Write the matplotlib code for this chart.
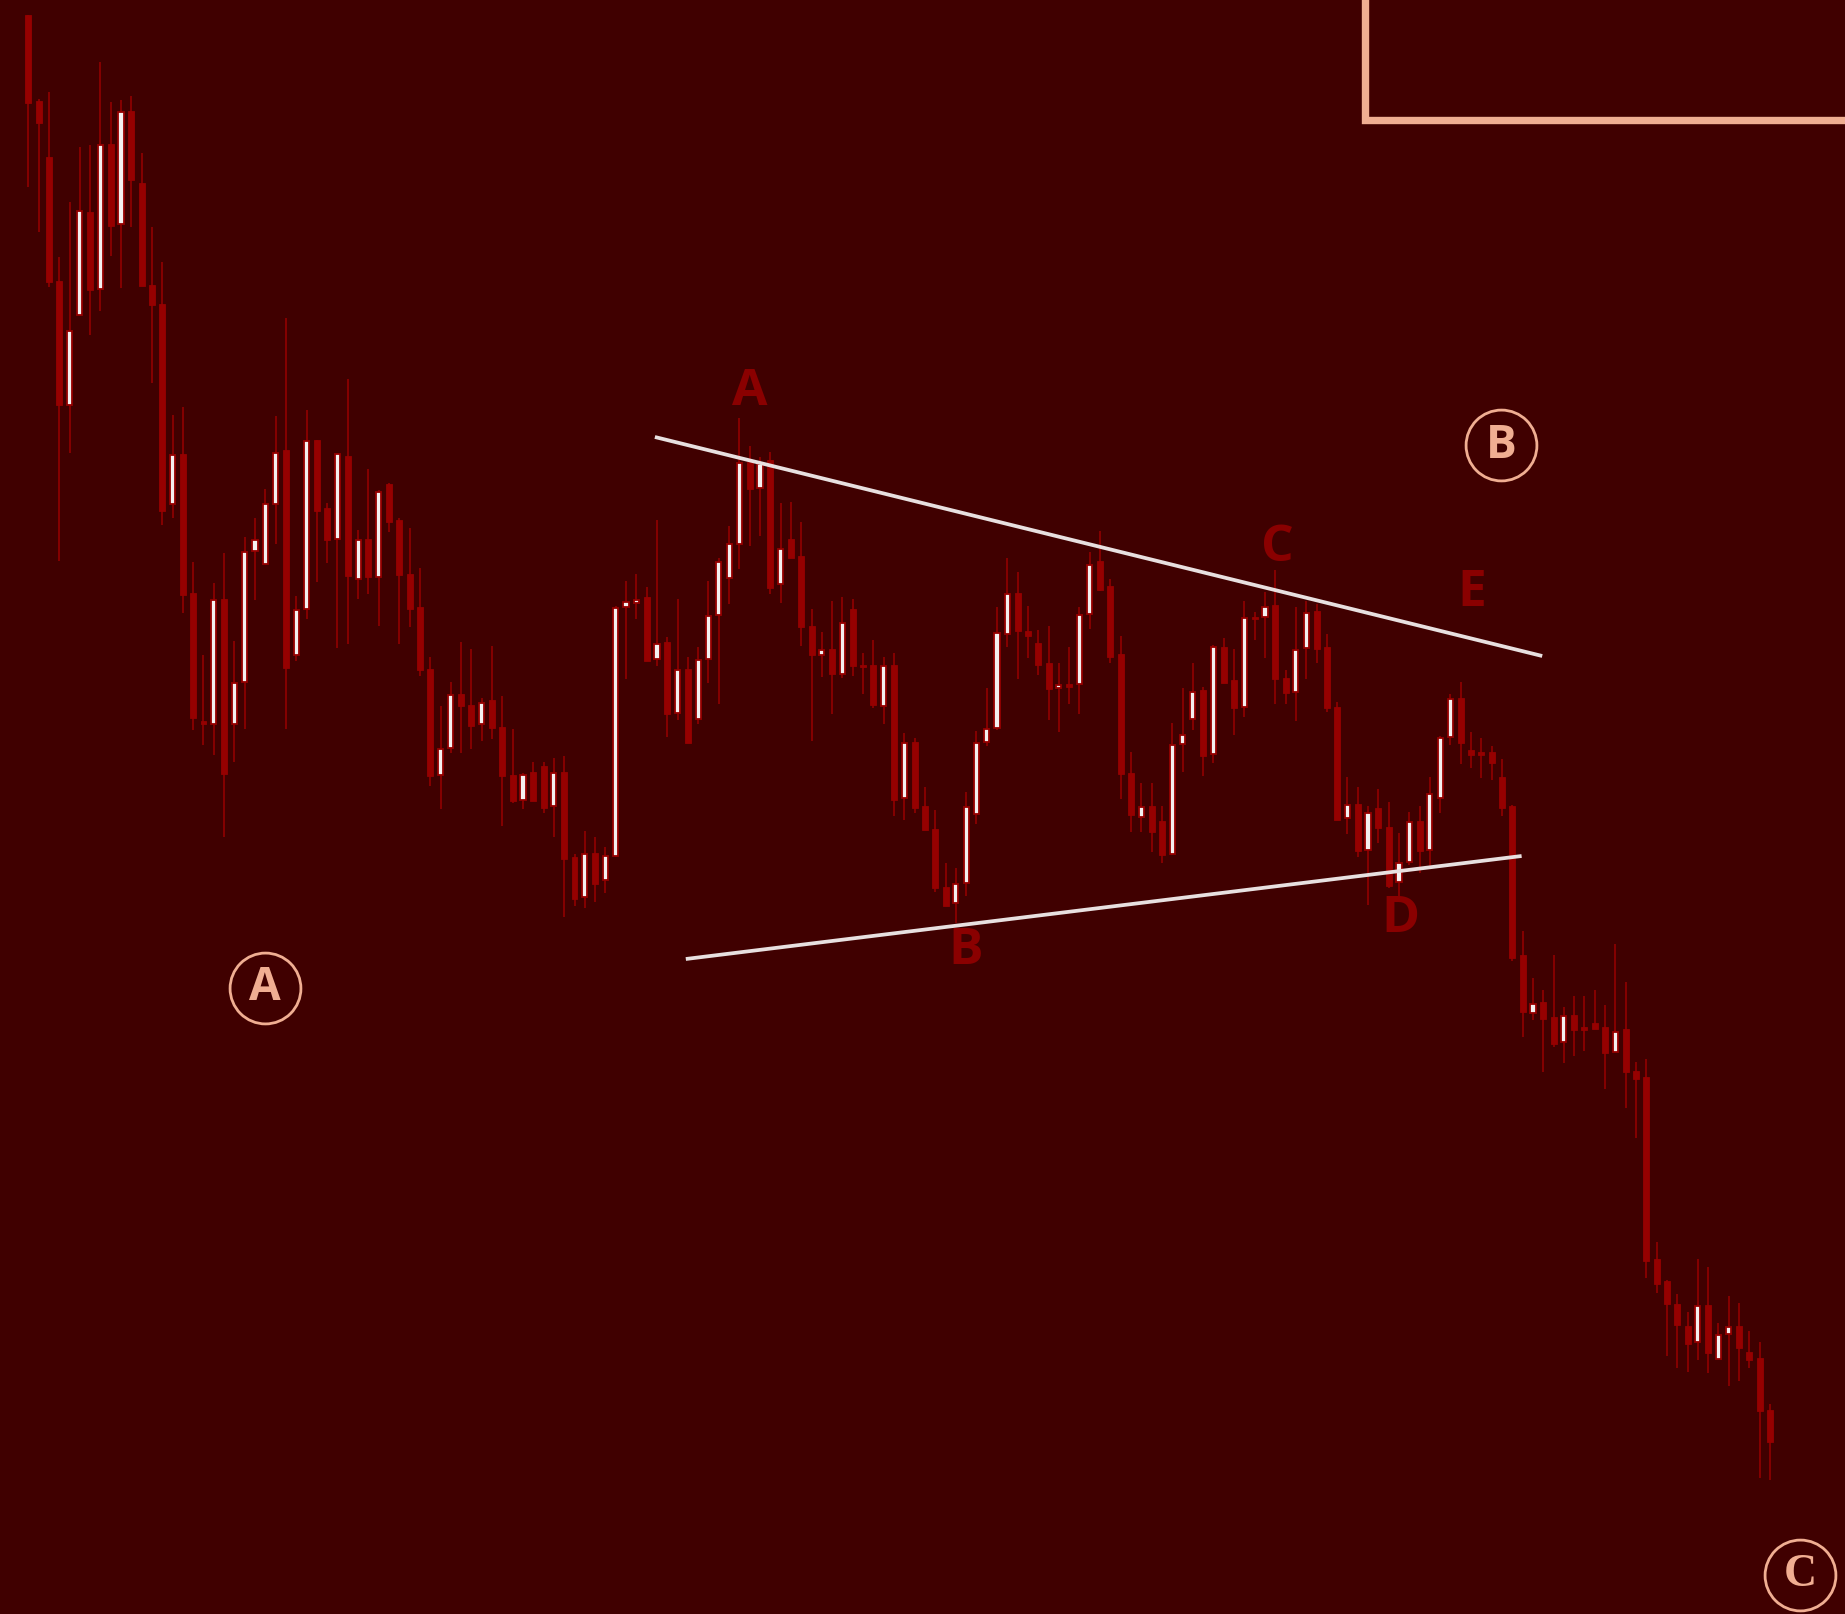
import matplotlib
matplotlib.use("Agg")
import matplotlib.pyplot as plt
import numpy as np

# ---- candle data (price units) ----
opens = [1599,1513,1457,1333,1209,1299,1402,1325,1470,1390,
         1503,1431,1329,1310,1110,1160,1021,893,890,1015,
         890,932,1063,1050,1110,1164,959,1005,1174,1106,
         1075,1158,1035,1075,1037,1130,1094,1040,1007,945,
         839,866,920,909,890,914,887,839,814,842,
         848,808,842,757,717,761,734,758,1007,1011,
         1017,955,972,901,945,895,955,999,1036,1070,
         1152,1126,1154,1030,1075,1058,988,959,965,940,
         1005,949,949,908,949,816,872,808,785,727,
         711,731,800,872,886,980,1021,983,971,951,
         926,930,930,1000,1053,1028,960,841,797,808,
         793,760,870,895,924,860,967,934,907,997,
         997,1009,936,922,966,1003,967,907,796,810,
         764,806,787,732,752,793,764,816,877,916,
         864,862,862,837,808,659,601,612,597,572,
         599,587,591,587,562,585,543,537,355,333,
         310,288,272,309,255,280,288,262,256,204]
highs = [1599,1515,1522,1357,1412,1467,1469,1552,1512,1514,
         1518,1461,1387,1352,1199,1207,1052,959,1031,1061,
         973,1077,1096,1125,1198,1296,1018,1204,1174,1111,
         1161,1235,1084,1145,1124,1131,1096,1086,1046,957,
         908,932,972,965,916,968,918,885,841,852,
         852,856,858,760,783,777,767,1008,1033,1040,
         1027,1094,977,1015,957,967,1033,1056,1088,1196,
         1168,1157,1162,1111,1112,1092,1005,982,1013,1017,
         1015,961,974,957,961,881,876,827,804,751,
         746,822,883,926,1007,1056,1042,1008,984,988,
         951,967,1007,1062,1083,1035,978,862,831,831,
         808,891,926,951,927,969,976,965,1013,1002,
         1022,1044,944,1007,1013,1010,980,912,837,827,
         808,825,812,781,802,808,837,878,920,932,
         882,876,868,855,809,683,636,624,659,607,
         618,618,624,609,670,632,552,555,372,334,
         320,302,355,347,291,318,311,283,272,210]
lows = [1427,1382,1327,1053,1161,1299,1279,1303,1358,1326,
        1387,1328,1231,1089,1096,1001,884,869,859,777,
        852,885,1014,1050,1070,885,953,995,1032,1051,
        966,970,1015,1020,988,1082,970,987,938,828,
        805,861,861,865,873,875,788,811,805,813,
        801,777,697,708,706,712,721,757,935,995,
        953,948,877,894,871,890,931,910,1010,1045,
        1068,1078,1020,1011,1056,968,873,937,900,936,
        938,920,906,890,798,794,801,784,722,708,
        691,718,790,868,884,967,935,956,939,894,
        882,910,900,985,1023,951,815,782,782,762,
        751,759,842,884,838,851,931,879,897,974,
        956,910,910,893,935,951,902,794,780,757,
        709,771,726,712,749,741,746,801,869,850,
        846,836,834,798,653,577,594,542,567,551,
        558,563,585,525,562,506,476,336,321,258,
        246,242,254,241,255,228,233,246,136,134]
closes = [1511,1491,1332,1209,1283,1403,1324,1469,1388,1502,
          1434,1328,1309,1103,1159,1019,896,890,1014,840,
          931,1062,1074,1110,1161,946,1004,1173,1103,1074,
          1160,1038,1074,1037,1122,1092,1039,1005,944,838,
          865,919,908,888,911,886,838,813,839,813,
          806,841,755,715,760,730,758,1006,1012,1014,
          953,970,900,944,871,954,998,1052,1070,1151,
          1125,1150,1026,1065,1056,987,959,964,940,991,
          948,947,909,948,814,871,806,784,726,708,
          730,807,871,885,981,1020,983,978,949,925,
          929,927,999,1049,1024,957,840,799,807,782,
          759,869,879,922,858,967,931,906,996,995,
          1007,935,921,964,1001,965,906,794,809,763,
          801,786,728,751,792,763,820,876,915,871,
          859,859,851,806,656,602,610,595,570,598,
          584,584,585,561,582,542,535,353,330,310,
          289,270,308,261,279,287,266,254,203,172]

# triangle trendlines (bar index, price)
upper_x = [60.8, 146.9]
upper_y = [1177, 958]
lower_x = [63.8, 144.9]
lower_y = [655, 758]

# wave labels
wave_labels = ["A", "B", "C", "D", "E"]
wave_x = [70.0, 91.0, 121.2, 133.1, 140.1]
wave_y = [1222, 663, 1066, 695, 1021]

# circled degree labels
circ_labels = ["A", "B", "C"]
circ_x = [22.97, 142.9, 171.9]
circ_y = [626, 1169, 39]

# box corner at top right
box_x = [129.7, 180]
box_y = [1494, 1700]

BG = "#400000"
RED = "#960000"
WICK = "#8e0000"
SALMON = "#f0ae92"
LBL = "#8a0000"

fig = plt.figure(figsize=(18.45, 16.14), dpi=100, facecolor=BG)
ax = fig.add_axes([0, 0, 1, 1])
ax.set_facecolor(BG)
ax.set_xlim(-2.746, 176.28)
ax.set_ylim(0, 1614)
ax.axis("off")

o = np.array(opens, float)
h = np.array(highs, float)
l = np.array(lows, float)
c = np.array(closes, float)
idx = np.arange(len(o))
bull = c > o

ax.vlines(idx, l, h, colors=WICK, linewidth=1.25, zorder=2)

bot = np.minimum(o, c)
hgt = np.maximum(np.abs(c - o), 2.5)
ax.bar(idx[~bull], hgt[~bull], bottom=bot[~bull], width=0.58,
       color=RED, edgecolor=RED, linewidth=0.6, zorder=3)
ax.bar(idx[bull], hgt[bull], bottom=bot[bull], width=0.5,
       color="#f4f0f0", edgecolor=RED, linewidth=1.3, zorder=3)

# trendlines
ax.plot(upper_x, upper_y, color="#e8e0e0", lw=2.7, zorder=4, solid_capstyle="butt")
ax.plot(lower_x, lower_y, color="#e8e0e0", lw=2.7, zorder=4, solid_capstyle="butt")

# wave letters
for t, x, y in zip(wave_labels, wave_x, wave_y):
    ax.text(x, y, t, color=LBL, fontsize=37, fontweight="bold",
            family=["Open Sans", "DejaVu Sans"], ha="center", va="center", zorder=5)

# circled letters
for t, x, y in zip(circ_labels, circ_x, circ_y):
    ax.plot([x], [y], marker="o", markersize=51, markerfacecolor="none",
            markeredgecolor=SALMON, markeredgewidth=2.0, zorder=5, clip_on=False)
    fam = ["Liberation Serif", "DejaVu Serif"] if t == "C" else ["Open Sans", "DejaVu Sans"]
    ax.text(x, y, t, color=SALMON, fontsize=33, fontweight="bold",
            family=fam, ha="center", va="center", zorder=6)

# top-right box corner
ax.plot([box_x[0], box_x[0], box_x[1]], [box_y[1], box_y[0], box_y[0]],
        color=SALMON, lw=5.3, solid_joinstyle="miter", zorder=5)

fig.savefig("out.png", dpi=100, facecolor=BG)
